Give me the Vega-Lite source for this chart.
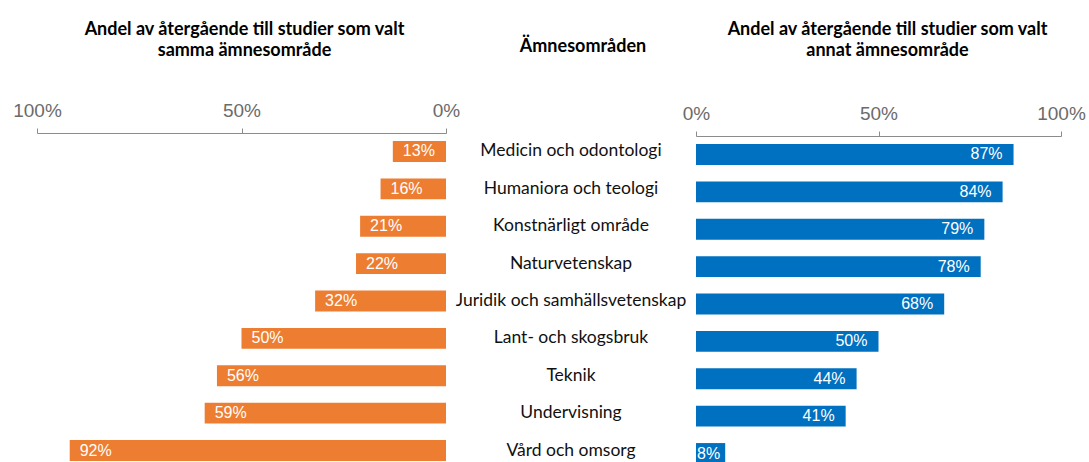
{
  "$schema": "https://vega.github.io/schema/vega-lite/v6.json",
  "background": "white",
  "padding": {"left": 12, "top": 21, "right": 0, "bottom": 0},
  "spacing": 0,
  "bounds": "flush",
  "config": {
    "view": {"stroke": null},
    "title": {"font": "Lato", "fontWeight": "bold", "fontSize": 18, "color": "#000000", "anchor": "middle", "lineHeight": 21, "frame": "group"},
    "axis": {"grid": false, "title": null, "labelFont": "Liberation Sans", "labelFontSize": 19, "labelColor": "#6b6b6b", "domainColor": "#8c8c8c", "tickColor": "#8c8c8c", "tickSize": 5, "labelPadding": 8, "labelFlush": false, "labelOverlap": false}
  },
  "data": {
    "values": [
      {"amne": "Medicin och odontologi", "samma": 0.13, "annat": 0.87},
      {"amne": "Humaniora och teologi", "samma": 0.16, "annat": 0.84},
      {"amne": "Konstnärligt område", "samma": 0.21, "annat": 0.79},
      {"amne": "Naturvetenskap", "samma": 0.22, "annat": 0.78},
      {"amne": "Juridik och samhällsvetenskap", "samma": 0.32, "annat": 0.68},
      {"amne": "Lant- och skogsbruk", "samma": 0.50, "annat": 0.50},
      {"amne": "Teknik", "samma": 0.56, "annat": 0.44},
      {"amne": "Undervisning", "samma": 0.59, "annat": 0.41},
      {"amne": "Vård och omsorg", "samma": 0.92, "annat": 0.08}
    ]
  },
  "hconcat": [
    {
      "width": 409,
      "height": 320,
      "title": {"text": ["Andel av återgående till studier som valt", "samma ämnesområde"], "offset": 41, "dx": 3},
      "encoding": {
        "y": {"field": "amne", "type": "nominal", "sort": null, "axis": null, "scale": {"type": "band", "paddingInner": 0.44, "paddingOuter": 0}}
      },
      "layer": [
        {
          "mark": {"type": "bar", "color": "#ED7D31"},
          "encoding": {
            "x": {"field": "samma", "type": "quantitative", "scale": {"domain": [0, 1], "reverse": true}, "axis": {"orient": "top", "values": [0, 0.5, 1], "format": ".0%", "offset": 8}}
          }
        },
        {
          "mark": {"type": "text", "align": "left", "baseline": "middle", "dx": 10, "color": "white", "font": "Liberation Sans", "fontSize": 16},
          "encoding": {
            "x": {"field": "samma", "type": "quantitative"},
            "text": {"field": "samma", "type": "quantitative", "format": ".0%"}
          }
        }
      ]
    },
    {
      "width": 250,
      "height": 320,
      "title": {"text": "Ämnesområden", "offset": 85, "dx": 12},
      "mark": {"type": "text", "baseline": "middle", "font": "Lato", "fontSize": 17.5, "color": "#111111"},
      "encoding": {
        "y": {"field": "amne", "type": "nominal", "sort": null, "axis": null, "scale": {"type": "band", "paddingInner": 0.44, "paddingOuter": 0}},
        "text": {"field": "amne", "type": "nominal"}
      }
    },
    {
      "width": 365,
      "height": 320,
      "title": {"text": ["Andel av återgående till studier som valt", "annat ämnesområde"], "offset": 44, "dx": 9},
      "encoding": {
        "y": {"field": "amne", "type": "nominal", "sort": null, "axis": null, "scale": {"type": "band", "paddingInner": 0.44, "paddingOuter": 0}}
      },
      "layer": [
        {
          "mark": {"type": "bar", "color": "#0070C0", "yOffset": 3},
          "encoding": {
            "x": {"field": "annat", "type": "quantitative", "scale": {"domain": [0, 1]}, "axis": {"orient": "top", "values": [0, 0.5, 1], "format": ".0%", "offset": 5}}
          }
        },
        {
          "transform": [{"filter": "datum.annat >= 0.1"}],
          "mark": {"type": "text", "align": "right", "baseline": "middle", "dx": -11, "yOffset": 3, "color": "white", "font": "Liberation Sans", "fontSize": 16},
          "encoding": {
            "x": {"field": "annat", "type": "quantitative"},
            "text": {"field": "annat", "type": "quantitative", "format": ".0%"}
          }
        },
        {
          "transform": [{"filter": "datum.annat < 0.1"}],
          "mark": {"type": "text", "align": "left", "baseline": "middle", "dx": 1, "yOffset": 3, "color": "white", "font": "Liberation Sans", "fontSize": 16},
          "encoding": {
            "x": {"datum": 0, "type": "quantitative"},
            "text": {"field": "annat", "type": "quantitative", "format": ".0%"}
          }
        }
      ]
    }
  ]
}
